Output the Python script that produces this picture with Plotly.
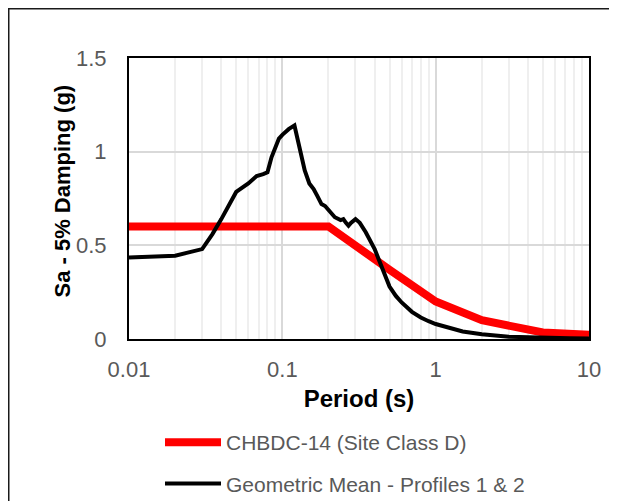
import plotly.graph_objects as go

# ---- data ----
code_period = [0.01, 0.2, 0.5, 1.0, 2.0, 5.0, 10.0]
code_sa = [0.6, 0.6, 0.37, 0.2, 0.1, 0.035, 0.022]

gm_period = [0.01, 0.02, 0.03, 0.035, 0.04, 0.045, 0.05, 0.06, 0.068, 0.075, 0.08,
             0.085, 0.09, 0.095, 0.1, 0.11, 0.12, 0.13, 0.14, 0.15, 0.16, 0.17,
             0.18, 0.19, 0.2, 0.22, 0.24, 0.25, 0.26, 0.27, 0.28, 0.3, 0.32, 0.35,
             0.4, 0.45, 0.5, 0.55, 0.6, 0.7, 0.8, 0.9, 1.0, 1.5, 2.0, 3.0, 4.0,
             5.0, 7.5, 10.0]
gm_sa = [0.435, 0.445, 0.48, 0.56, 0.64, 0.72, 0.785, 0.83, 0.87, 0.88, 0.89,
         0.97, 1.02, 1.07, 1.09, 1.12, 1.14, 1.02, 0.9, 0.83, 0.8, 0.76,
         0.72, 0.71, 0.69, 0.65, 0.635, 0.64, 0.62, 0.605, 0.62, 0.64, 0.62, 0.57,
         0.48, 0.38, 0.28, 0.23, 0.195, 0.145, 0.115, 0.095, 0.08, 0.04, 0.025, 0.012, 0.008,
         0.006, 0.004, 0.003]

series_names = ["CHBDC-14 (Site Class D)", "Geometric Mean - Profiles 1 & 2"]
x_ticks = [0.01, 0.1, 1, 10]
x_ticktext = ["0.01", "0.1", "1", "10"]
y_ticks = [0, 0.5, 1, 1.5]
y_ticktext = ["0", "0.5", "1", "1.5"]
x_title = "Period (s)"
y_title = "Sa - 5% Damping (g)"

FONT = "Liberation Sans, Arial, sans-serif"

# page body has an 8px margin, so the figure is drawn 8px right/down
W, H = 609, 493
L, T = 121, 50
R = W - 581
B = H - 331
PW = W - L - R
PH = H - T - B


def px(xpix):
    return (xpix - L) / PW


def py(ypix):
    return (H - B - ypix) / PH


fig = go.Figure()
fig.add_trace(go.Scatter(x=code_period, y=code_sa, mode="lines", name=series_names[0],
                         legendgroup="a",
                         line=dict(color="#ff0000", width=8)))
fig.add_trace(go.Scatter(x=gm_period, y=gm_sa, mode="lines", name=series_names[1],
                         legendgroup="b",
                         line=dict(color="#000000", width=4)))

minor_vals = [m * 10 ** e for e in range(-2, 1) for m in range(2, 10)]

fig.update_layout(
    width=W, height=H,
    margin=dict(l=L, r=R, t=T, b=B, autoexpand=False),
    paper_bgcolor="white", plot_bgcolor="white",
    font=dict(family=FONT, size=22, color="#595959"),
    showlegend=True,
    legend=dict(x=px(152), y=py(414), xanchor="left", yanchor="top",
                orientation="v", tracegroupgap=11, itemwidth=56,
                font=dict(family=FONT, size=21, color="#595959"),
                bgcolor="rgba(0,0,0,0)"),
    xaxis=dict(type="log", range=[-2, 1], tickvals=x_ticks, ticktext=x_ticktext,
               showgrid=True, gridcolor="#d9d9d9", gridwidth=2,
               minor=dict(tickvals=minor_vals, showgrid=True, gridcolor="#efefef", gridwidth=2),
               showline=True, linecolor="black", linewidth=2, mirror=True,
               ticks="", ticklabelstandoff=10, zeroline=False,
               title=dict(text="<b>" + x_title + "</b>", font=dict(family=FONT, size=24, color="black"),
                          standoff=9)),
    yaxis=dict(range=[0, 1.5], tickvals=y_ticks, ticktext=y_ticktext,
               showgrid=True, gridcolor="#d9d9d9", gridwidth=2,
               showline=True, linecolor="black", linewidth=2, mirror=True,
               ticks="", ticklabelstandoff=16, zeroline=False),
    annotations=[
        dict(text="<b>" + y_title + "</b>", xref="paper", yref="paper",
             x=px(54), y=py(183.5), xanchor="center", yanchor="middle",
             textangle=-90, showarrow=False,
             font=dict(family=FONT, size=22, color="black")),
    ],
    shapes=[
        dict(type="line", xref="paper", yref="paper",
             x0=px(0), x1=px(0), y0=py(0), y1=py(H + 20),
             line=dict(color="#1a1a1a", width=3)),
        dict(type="line", xref="paper", yref="paper",
             x0=px(0), x1=px(W + 20), y0=py(0), y1=py(0),
             line=dict(color="#1a1a1a", width=3)),
    ],
)

fig.write_html("out.html")
